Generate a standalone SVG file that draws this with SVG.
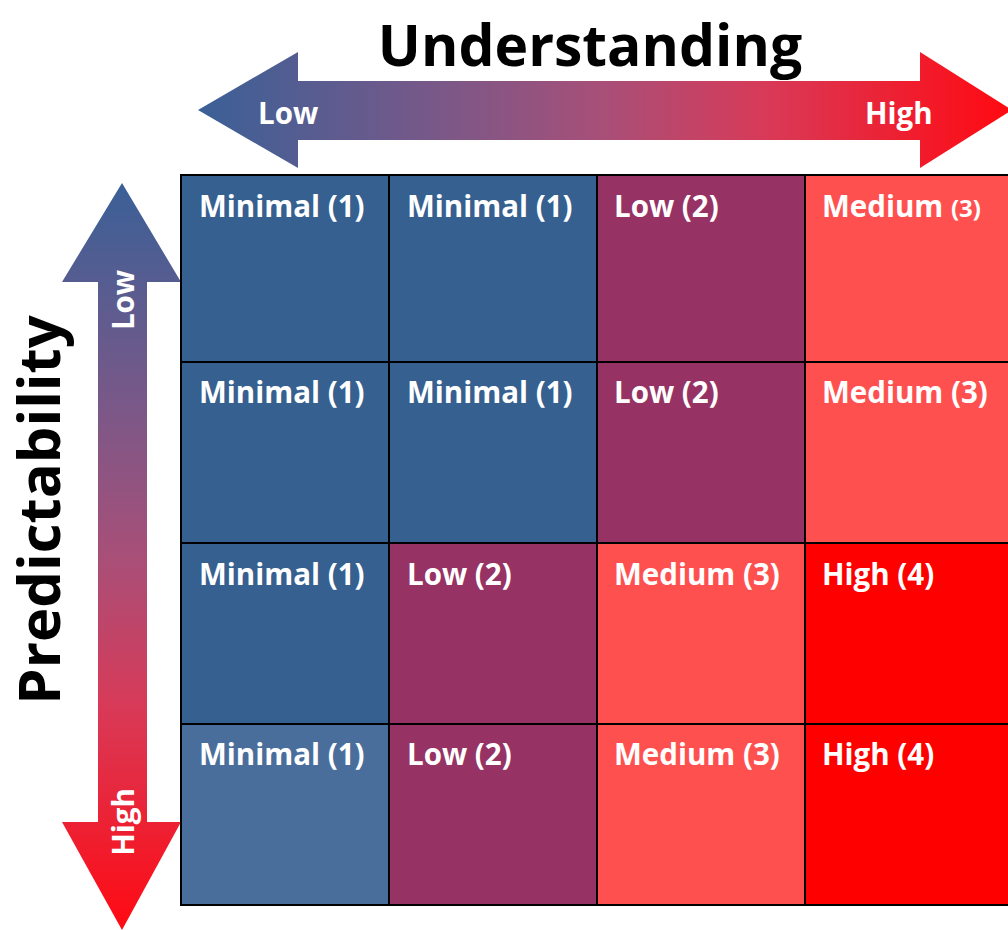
<svg xmlns="http://www.w3.org/2000/svg" width="1008" height="930" viewBox="0 0 1008 930">
<defs>
<linearGradient id="gh" gradientUnits="userSpaceOnUse" x1="198" y1="0" x2="1008" y2="0">
<stop offset="0" stop-color="#3A6097"/>
<stop offset="0.3" stop-color="#7A5888"/>
<stop offset="0.5" stop-color="#A84F78"/>
<stop offset="0.7" stop-color="#D83A58"/>
<stop offset="1" stop-color="#FF0A12"/>
</linearGradient>
<linearGradient id="gv" gradientUnits="userSpaceOnUse" x1="0" y1="183" x2="0" y2="930">
<stop offset="0" stop-color="#3A6097"/>
<stop offset="0.3" stop-color="#7A5888"/>
<stop offset="0.5" stop-color="#A84F78"/>
<stop offset="0.7" stop-color="#D83A58"/>
<stop offset="1" stop-color="#FF0A12"/>
</linearGradient>
<style>
.t{font-family:"Open Sans","Liberation Sans",sans-serif;font-weight:bold;fill:#fff;font-size:29.5px}
.h{font-family:"Open Sans","Liberation Sans",sans-serif;font-weight:bold;fill:#000}
.cell{stroke:#000;stroke-width:2}
.b{fill:#36608F}.p{fill:#963264}.m{fill:#FF5050}.r{fill:#FF0000}.bl{fill:#4A6E9C}
</style>
</defs>
<rect width="1008" height="930" fill="#fff"/>
<g id="axis-understanding">
<path d="M198,110 L298,52 L298,81 L920,81 L920,52 L1012,110 L920,168 L920,140 L298,140 L298,168 Z" fill="url(#gh)"/>
<text class="h" x="590" y="66" text-anchor="middle" font-size="57">Understanding</text>
<text class="t" x="258" y="124" font-size="33">Low</text>
<text class="t" x="865" y="124" font-size="33">High</text>
</g>
<g id="axis-predictability">
<path d="M122,183 L181,282 L147,282 L147,822 L181,822 L122,930 L62,822 L98,822 L98,282 L62,282 Z" fill="url(#gv)"/>
<text class="h" transform="translate(60,510) rotate(-90)" text-anchor="middle" font-size="58">Predictability</text>
<text class="t" transform="translate(134,300) rotate(-90)" text-anchor="middle" font-size="29">Low</text>
<text class="t" transform="translate(134,822) rotate(-90)" text-anchor="middle" font-size="29">High</text>
</g>
<g id="grid">
<g id="r1c1"><rect class="cell b" x="181" y="175" width="208" height="187"/><text class="t" x="199" y="217">Minimal (1)</text></g>
<g id="r1c2"><rect class="cell b" x="389" y="175" width="208" height="187"/><text class="t" x="407" y="217">Minimal (1)</text></g>
<g id="r1c3"><rect class="cell p" x="597" y="175" width="208" height="187"/><text class="t" x="614" y="217">Low (2)</text></g>
<g id="r1c4"><rect class="cell m" x="805" y="175" width="208" height="187"/><text class="t" x="822" y="217">Medium <tspan font-size="24">(3)</tspan></text></g>
<g id="r2c1"><rect class="cell b" x="181" y="362" width="208" height="181"/><text class="t" x="199" y="403">Minimal (1)</text></g>
<g id="r2c2"><rect class="cell b" x="389" y="362" width="208" height="181"/><text class="t" x="407" y="403">Minimal (1)</text></g>
<g id="r2c3"><rect class="cell p" x="597" y="362" width="208" height="181"/><text class="t" x="614" y="403">Low (2)</text></g>
<g id="r2c4"><rect class="cell m" x="805" y="362" width="208" height="181"/><text class="t" x="822" y="403">Medium (3)</text></g>
<g id="r3c1"><rect class="cell b" x="181" y="543" width="208" height="181"/><text class="t" x="199" y="585">Minimal (1)</text></g>
<g id="r3c2"><rect class="cell p" x="389" y="543" width="208" height="181"/><text class="t" x="407" y="585">Low (2)</text></g>
<g id="r3c3"><rect class="cell m" x="597" y="543" width="208" height="181"/><text class="t" x="614" y="585">Medium (3)</text></g>
<g id="r3c4"><rect class="cell r" x="805" y="543" width="208" height="181"/><text class="t" x="822" y="585">High (4)</text></g>
<g id="r4c1"><rect class="cell bl" x="181" y="724" width="208" height="181"/><text class="t" x="199" y="765">Minimal (1)</text></g>
<g id="r4c2"><rect class="cell p" x="389" y="724" width="208" height="181"/><text class="t" x="407" y="765">Low (2)</text></g>
<g id="r4c3"><rect class="cell m" x="597" y="724" width="208" height="181"/><text class="t" x="614" y="765">Medium (3)</text></g>
<g id="r4c4"><rect class="cell r" x="805" y="724" width="208" height="181"/><text class="t" x="822" y="765">High (4)</text></g>
</g>
</svg>
